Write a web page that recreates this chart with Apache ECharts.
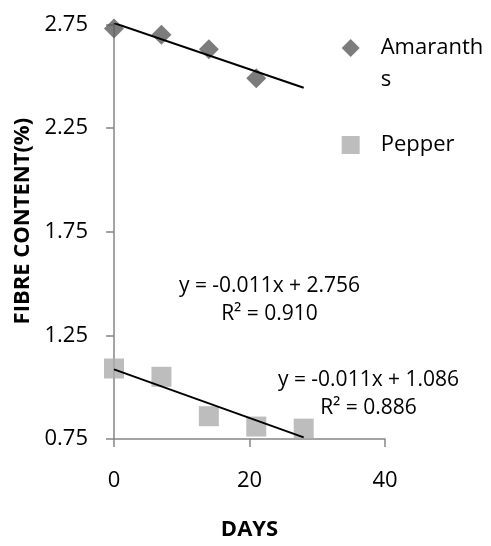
<!DOCTYPE html>
<html><head><meta charset="utf-8">
<script src="https://cdn.jsdelivr.net/npm/echarts@6/dist/echarts.min.js"></script>
<style>html,body{margin:0;padding:0;background:#fff}#c{width:491px;height:546px}</style>
</head><body><div id="c"></div>
<script>
const amaranthDays = [0, 7, 14, 21];
const amaranthValues = [2.73, 2.70, 2.63, 2.49];
const pepperDays = [0, 7, 14, 21, 28];
const pepperValues = [1.09, 1.05, 0.86, 0.81, 0.80];
const trendDays = [0, 28];
const amaranthTrend = [2.756, 2.444];
const pepperTrend = [1.086, 0.758];
const yTicks = [0.75, 1.25, 1.75, 2.25, 2.75];
const xTicks = [0, 20, 40];
const amaranthEq = ['y = -0.011x + 2.756', 'R² = 0.910'];
const pepperEq = ['y = -0.011x + 1.086', 'R² = 0.886'];

const FONT = 'Open Sans';
const pair = (xs, ys) => xs.map((x, i) => [x, ys[i]]);
const diamond = 'path://M0,-1L1,0L0,1L-1,0Z';

const eqText = (lines, cx, cy) => lines.map((t, i) => ({
  type: 'text', x: cx, y: cy + i * 28.5, z: 10,
  style: {text: t, font: '21px "' + FONT + '"', fill: '#000', align: 'center', verticalAlign: 'middle'}
}));

const chart = echarts.init(document.getElementById('c'), null, {renderer: 'canvas'});
chart.setOption({
  animation: false,
  textStyle: {fontFamily: FONT},
  grid: {left: 114, top: 24.3, width: 271, height: 418},
  legend: {
    orient: 'vertical', left: 341.7, top: 0, padding: 0, itemWidth: 18, itemHeight: 18, itemGap: 33,
    data: [
      {name: 'Amaranths', icon: diamond},
      {name: 'Pepper', icon: 'rect'}
    ],
    formatter: n => n === 'Amaranths' ? ' \nAmaranth\ns' : n,
    textStyle: {fontFamily: FONT, fontSize: 22, color: '#000', lineHeight: 32, padding: [0, 0, 0, 16]}
  },
  xAxis: {
    type: 'value', min: xTicks[0], max: xTicks[xTicks.length - 1], interval: 20,
    name: 'DAYS', nameLocation: 'middle', nameGap: 80,
    nameTextStyle: {fontFamily: FONT, fontWeight: 'bold', fontSize: 22, color: '#000'},
    axisLine: {lineStyle: {color: '#868686', width: 1.5}},
    axisTick: {show: true, length: 8, inside: false, lineStyle: {color: '#868686', width: 1.5}},
    axisLabel: {fontFamily: FONT, fontSize: 22, color: '#000', margin: 31},
    splitLine: {show: false}
  },
  yAxis: {
    type: 'value', min: yTicks[0], max: yTicks[yTicks.length - 1], interval: 0.5,
    name: 'FIBRE CONTENT(%)', nameLocation: 'middle', nameGap: 78,
    nameTextStyle: {fontFamily: FONT, fontWeight: 'bold', fontSize: 22, color: '#000', padding: [0, 0, 0, 21]},
    axisLine: {show: true, lineStyle: {color: '#868686', width: 1.5}},
    axisTick: {show: true, length: 8, lineStyle: {color: '#868686', width: 1.5}},
    axisLabel: {fontFamily: FONT, fontSize: 22, color: '#000', margin: 26, formatter: v => v.toFixed(2)},
    splitLine: {show: false}
  },
  series: [
    {name: 'Amaranths', type: 'scatter', symbol: diamond, symbolSize: 20, data: pair(amaranthDays, amaranthValues),
     itemStyle: {color: '#5b5b5b'}, z: 3},
    {name: 'Pepper', type: 'scatter', symbol: 'rect', symbolSize: 20, data: pair(pepperDays, pepperValues),
     itemStyle: {color: '#adadad'}, z: 3},
    {name: 'trendA', type: 'line', symbol: 'none', data: pair(trendDays, amaranthTrend),
     lineStyle: {color: '#000', width: 2}, z: 4, silent: true},
    {name: 'trendP', type: 'line', symbol: 'none', data: pair(trendDays, pepperTrend),
     lineStyle: {color: '#000', width: 2}, z: 4, silent: true}
  ],
  graphic: eqText(amaranthEq, 269.5, 286).concat(eqText(pepperEq, 368.5, 380))
});
</script></body></html>
